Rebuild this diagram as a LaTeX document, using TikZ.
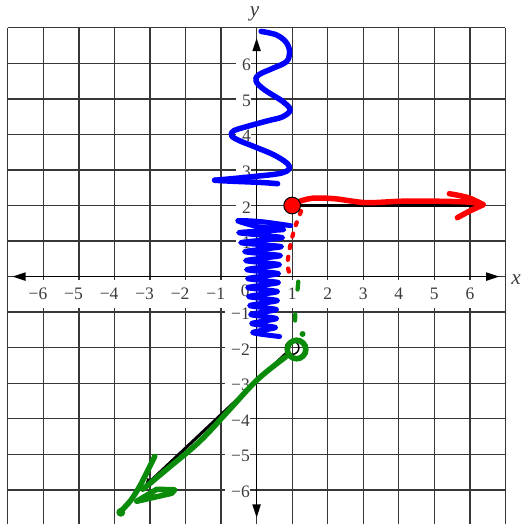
\documentclass[tikz,border=0pt]{standalone}
\usepackage{fontspec}
\setmainfont{Liberation Serif}
\usetikzlibrary{arrows.meta}
\definecolor{gridc}{RGB}{55,55,55}
\definecolor{labc}{RGB}{60,60,60}
\definecolor{pblue}{RGB}{0,0,255}
\definecolor{pred}{RGB}{255,0,0}
\definecolor{pgreen}{RGB}{10,140,10}
\begin{document}
\begin{tikzpicture}[
 gridline/.style={draw=gridc, line width=1.05pt},
 axisline/.style={draw=black, line width=1.25pt, {Triangle[length=3.7mm,width=2.3mm]}-{Triangle[length=3.7mm,width=2.3mm]}},
 labfont/.style={font=\fontsize{14pt}{16pt}\selectfont, text=labc},
 xlab/.style={labfont, fill=white, inner xsep=1.5pt, inner ysep=0pt, minimum height=0.76cm},
 ylab/.style={labfont, fill=white, anchor=east, inner xsep=0.4pt, inner ysep=1.2pt},
 axname/.style={font=\fontsize{17pt}{19pt}\selectfont\itshape, text=labc, inner sep=0pt},
 printray/.style={draw=black, line width=2.4pt, -{Latex[length=3mm,width=2.6mm]}},
 pen/.style={line width=4.4pt, line cap=round, line join=round},
 pxframe/.style={shift={(-7.2191cm,7.7809cm)}, x=0.028090cm, y=-0.028090cm}
]
\begin{scope}[pxframe]
 \path[use as bounding box] (0,0) rectangle (525,525);
\end{scope}
% grid
\draw[gridline] (-7,-6.97) grid (7,7);
% labels with white boxes
\foreach \k in {1,...,6} {
  \node[xlab] (xp\k) at (\k,-0.49) {\k};
  \node[xlab] (xm\k) at (-\k-0.15,-0.49) {−\k};
  \node[ylab] (yp\k) at (-0.14,\k-0.05) {\hspace*{4.5pt}\k};
  \node[ylab] (ym\k) at (-0.17,-\k-0.05) {\hspace*{4.5pt}−\k};
}
\node[labfont, inner sep=0pt] (zero) at (-0.32,-0.40) {0};
\node[axname] (xname) at (7.30,-0.08) {x};
\node[axname] (yname) at (-0.06,7.38) {y};
% axes
\coordinate (xw) at (-6.87,0);
\coordinate (xe) at (6.83,0);
\coordinate (ys) at (0,-6.78);
\coordinate (yn) at (0,6.71);
\draw[axisline] (xw) -- (xe);
\draw[axisline] (ys) -- (yn);
% printed rays
\coordinate (rc) at (1,2);
\coordinate (rtip) at (6.46,2);
\draw[printray] (rc) -- (rtip);
\node[draw=black, circle, line width=1.2pt, minimum size=0.38cm, inner sep=0pt] (bcirc) at (1,-2) {};
\coordinate (gtip) at (-3.20,-5.955);
\draw[printray] (bcirc) -- (gtip);
% hand drawn marks (pixel frame)
\begin{scope}[pxframe]
 % blue upper wave
 \draw[pen, pblue] plot[smooth, tension=0.6] coordinates {(261.5,31.5) (277,35) (287,43) (290,53) (286.5,62) (273,68.5) (259,75) (256.5,81.5) (265,90) (283,101.5) (290.5,110) (283,117) (268,121) (248,126.5) (234,131) (232,136) (240,141) (255,147) (276,156) (289.5,166) (283,173) (252,177) (215,180.5)};
 \draw[pen, pblue] (215,180.5) .. controls (235,182) and (258,182) .. (278,184);
 % blue lower zigzag
 \draw[pen, pblue, line width=4pt] plot[smooth, tension=0.45] coordinates {(291,226) (262,222) (238,221) (258,227) (284,230) (239,233) (283,238) (241,243) (282,247) (245,252) (281,256) (246,261) (280,265) (247,270) (279,274) (248,279) (279,283) (248,288) (278,292) (249,297) (278,301) (250,306) (277,310) (251,315) (277,319) (252,324) (276,328) (253,333) (280,337)};
 % red ray
 \draw[pen, pred] plot[smooth, tension=0.6] coordinates {(299,202) (313,198.5) (335,199) (353,201.5) (370,203) (403,201.5) (437,201.5) (470,202.5) (484,205)};
 \draw[pen, pred] plot[smooth, tension=0.6] coordinates {(450,194) (469,198) (484,205)} -- (470,211.5) -- (458,218);
 \draw[pred, line width=3.4pt, line cap=round, dash pattern=on 2.5pt off 7pt] plot[smooth] coordinates {(301.5,211.5) (296,226) (292,240) (289,255) (288,266) (290.5,276)};
 \node[circle, fill=pred, draw=black, line width=0.8pt, minimum size=0.47cm, inner sep=0pt] (rdot) at (rc) {};
 % green marks
 \draw[pgreen, line width=3.4pt, line cap=round] (298.7,282) -- (298,290);
 \draw[pgreen, line width=3.4pt, line cap=round] (295.7,315) -- (295.5,321);
 \fill[pgreen] (303,334.5) circle (3);
 \draw[pen, pgreen] plot[smooth, tension=0.6] coordinates {(286,357.5) (258,380) (230,410) (200,442) (167,470) (143,490)};
 \node[draw=pgreen, circle, line width=4.5pt, minimum size=0.52cm, inner sep=0pt] (gcirc) at (297,350) {};
 \draw[pen, pgreen] plot[smooth, tension=0.5] coordinates {(155,457) (141,485) (131,501) (121,512)};
 \fill[pgreen] (121,513) circle (4.5);
 \draw[pen, pgreen] (137,502) -- (157,490) -- (175,490.5) -- (172,494) -- cycle;
\end{scope}
\end{tikzpicture}
\end{document}
